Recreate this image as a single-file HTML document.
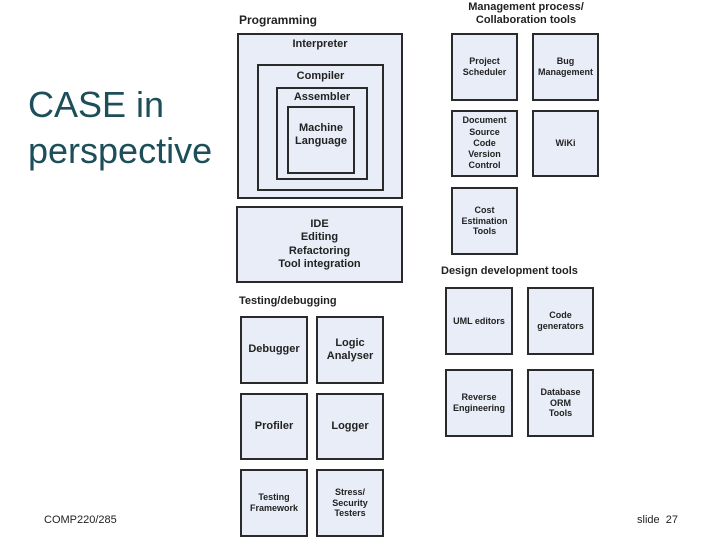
<!DOCTYPE html><html><head><style>
body{margin:0;width:720px;height:540px;background:#fff;position:relative;overflow:hidden;font-family:"Liberation Sans",sans-serif}
.b{position:absolute;box-sizing:border-box;border:2px solid #2a2a2a;background:#e8edf7;font-weight:bold;color:#222;text-align:center;display:flex;align-items:center;justify-content:center;line-height:1.2}
.t{position:absolute;font-weight:bold;color:#222;font-size:12px;text-align:center}
</style></head><body>
<div style="position:absolute;left:28px;top:82px;font-size:36px;color:#1c4f5a;line-height:46px">CASE in<br>perspective</div>
<div style="position:absolute;left:44px;top:514px;font-size:11px;color:#222">COMP220/285</div>
<div style="position:absolute;left:637px;top:514px;font-size:11px;color:#222">slide&nbsp; 27</div>

<div class="t" style="left:239px;top:13px">Programming</div>
<div class="b" style="left:237px;top:33px;width:166px;height:166px;align-items:flex-start"><div style="font-size:11px;margin-top:3px">Interpreter</div></div>
<div class="b" style="left:257px;top:64px;width:127px;height:127px;align-items:flex-start"><div style="font-size:11px;margin-top:4px">Compiler</div></div>
<div class="b" style="left:276px;top:87px;width:92px;height:93px;align-items:flex-start"><div style="font-size:11px;margin-top:2px">Assembler</div></div>
<div class="b" style="left:287px;top:106px;width:68px;height:68px;font-size:11px;align-items:flex-start"><div style="margin-top:14px">Machine<br>Language</div></div>
<div class="b" style="left:236px;top:206px;width:167px;height:77px;font-size:11px">IDE<br>Editing<br>Refactoring<br>Tool integration</div>

<div class="t" style="left:446px;top:1px;width:160px;line-height:13px;font-size:11px">Management process/<br>Collaboration tools</div>
<div class="b" style="left:451px;top:33px;width:67px;height:68px;font-size:9px">Project<br>Scheduler</div>
<div class="b" style="left:532px;top:33px;width:67px;height:68px;font-size:9px">Bug<br>Management</div>
<div class="b" style="left:451px;top:110px;width:67px;height:67px;font-size:9px;line-height:1.25">Document<br>Source<br>Code<br>Version<br>Control</div>
<div class="b" style="left:532px;top:110px;width:67px;height:67px;font-size:9px">WiKi</div>
<div class="b" style="left:451px;top:187px;width:67px;height:68px;font-size:9px">Cost<br>Estimation<br>Tools</div>

<div class="t" style="left:441px;top:265px;font-size:11px">Design development tools</div>
<div class="b" style="left:445px;top:287px;width:68px;height:68px;font-size:9px">UML editors</div>
<div class="b" style="left:527px;top:287px;width:67px;height:68px;font-size:9px">Code<br>generators</div>
<div class="b" style="left:445px;top:369px;width:68px;height:68px;font-size:9px">Reverse<br>Engineering</div>
<div class="b" style="left:527px;top:369px;width:67px;height:68px;font-size:9px">Database<br>ORM<br>Tools</div>

<div class="t" style="left:239px;top:295px;font-size:11px">Testing/debugging</div>
<div class="b" style="left:240px;top:316px;width:68px;height:68px;font-size:11px">Debugger</div>
<div class="b" style="left:316px;top:316px;width:68px;height:68px;font-size:11px">Logic<br>Analyser</div>
<div class="b" style="left:240px;top:393px;width:68px;height:67px;font-size:11px">Profiler</div>
<div class="b" style="left:316px;top:393px;width:68px;height:67px;font-size:11px">Logger</div>
<div class="b" style="left:240px;top:469px;width:68px;height:68px;font-size:9px">Testing<br>Framework</div>
<div class="b" style="left:316px;top:469px;width:68px;height:68px;font-size:9px">Stress/<br>Security<br>Testers</div>
</body></html>
